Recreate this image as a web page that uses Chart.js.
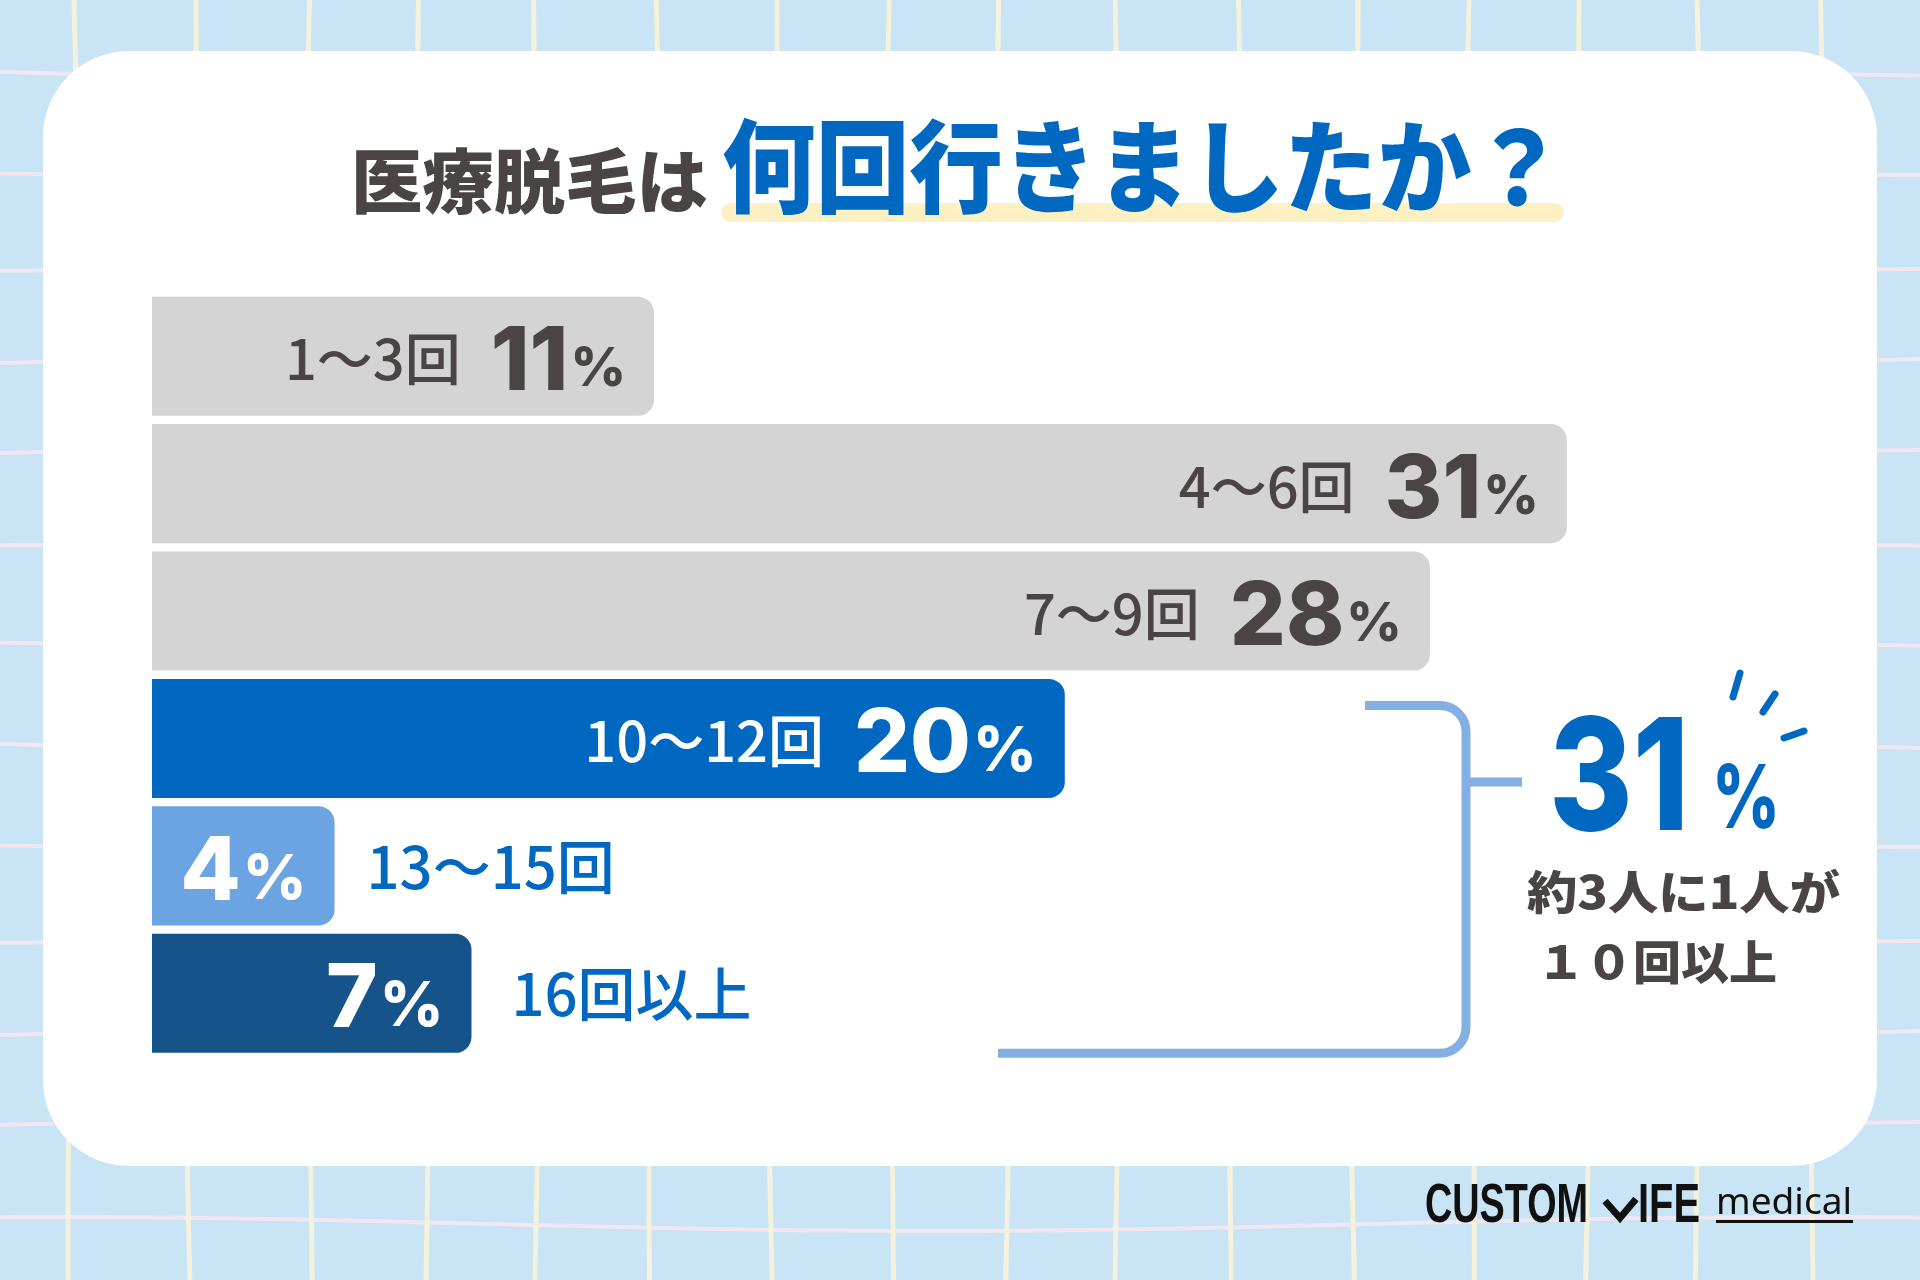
<!DOCTYPE html>
<html><head><meta charset="utf-8">
<script src="https://cdn.jsdelivr.net/npm/chart.js@4"></script>
<style>html,body{margin:0;padding:0;background:#c9e4f4;overflow:hidden}#wrap{width:1920px;height:1280px}</style>
</head><body><div id="wrap"><canvas id="c" width="1920" height="1280"></canvas></div>
<script>
// ---- data ----
const categories = ['1〜3回', '4〜6回', '7〜9回', '10〜12回', '13〜15回', '16回以上'];
const percentages = [11, 31, 28, 20, 4, 7];
const titleDark = '医療脱毛は';
const titleBlue = '何回行きましたか？';
const calloutLine1 = '約3人に1人が';
const calloutLine2 = '１０回以上';
const logoWords = ['CUSTOM', 'IFE', 'medical'];

// ---- styles ----
const DARK = '#4a4444';
const BLUE = '#0068c0';
const barColors = ['#d4d4d4', '#d4d4d4', '#d4d4d4', '#0068c0', '#6ca4e2', '#15538a'];
const JP = "'Noto Sans CJK JP', 'Noto Sans', sans-serif";
const NUM = "Inter, 'Noto Sans', sans-serif";

function rr(ctx, x, y, w, h, r) {
  ctx.beginPath();
  ctx.moveTo(x + r, y);
  ctx.arcTo(x + w, y, x + w, y + h, r);
  ctx.arcTo(x + w, y + h, x, y + h, r);
  ctx.arcTo(x, y + h, x, y, r);
  ctx.arcTo(x, y, x + w, y, r);
  ctx.closePath();
}
function fitText(ctx, text, x, y, w) {
  const m = ctx.measureText(text).width;
  ctx.save(); ctx.translate(x, y); ctx.scale(w / m, 1); ctx.fillText(text, 0, 0); ctx.restore();
}

const bgPlugin = {
  id: 'bg',
  beforeDraw(chart) {
    const ctx = chart.ctx;
    ctx.save();
    ctx.fillStyle = '#c9e4f4';
    ctx.fillRect(0, 0, 1920, 1280);
    ctx.strokeStyle = '#f2e6f3'; ctx.lineWidth = 4;
    for (let k = 0; k < 14; k++) {
      const y0 = 72 + 96 * k;
      ctx.beginPath();
      for (let x = 0; x <= 1920; x += 20) {
        const y = y0 + 7 * Math.sin(x / 280 + k * 0.9);
        if (x === 0) ctx.moveTo(x, y); else ctx.lineTo(x, y);
      }
      ctx.stroke();
    }
    ctx.strokeStyle = '#f4f2dc'; ctx.lineWidth = 5;
    for (let k = 0; k < 17; k++) {
      const x0 = 74 + 116.2 * k;
      ctx.beginPath();
      for (let y = 0; y <= 1280; y += 20) {
        const x = x0 + 6 * Math.sin(y / 260 + k * 1.3);
        if (y === 0) ctx.moveTo(x, y); else ctx.lineTo(x, y);
      }
      ctx.stroke();
    }
    ctx.fillStyle = '#ffffff';
    rr(ctx, 43, 51, 1834, 1115, 86);
    ctx.fill();
    ctx.fillStyle = '#fdf1c4';
    rr(ctx, 721, 203, 843, 19, 9.5);
    ctx.fill();
    ctx.textBaseline = 'middle';
    ctx.textAlign = 'left';
    ctx.fillStyle = DARK;
    ctx.font = `900 70px ${JP}`;
    fitText(ctx, titleDark, 351, 181, 357);
    ctx.fillStyle = BLUE;
    ctx.font = `900 92px ${JP}`;
    ctx.save();
    ctx.translate(722, 167); ctx.scale(1, 1.1);
    const m = ctx.measureText(titleBlue).width;
    ctx.scale(843 / m, 1);
    ctx.fillText(titleBlue, 0, 0);
    ctx.restore();
    ctx.restore();
  }
};

const labelPlugin = {
  id: 'labels',
  afterDatasetsDraw(chart) {
    const ctx = chart.ctx;
    const meta = chart.getDatasetMeta(0);
    ctx.save();
    ctx.textBaseline = 'alphabetic';
    meta.data.forEach((bar, i) => {
      const end = bar.x, start = bar.base, y = bar.y;
      const val = String(percentages[i]);
      const cat = categories[i];
      const gray = i < 3;
      const ink = gray ? DARK : '#ffffff';
      const pctSize = gray ? 54 : 62;
      ctx.font = `800 ${pctSize}px ${NUM}`;
      const pctW = ctx.measureText('%').width;
      ctx.font = `800 88px ${NUM}`;
      const numW = ctx.measureText(val).width;
      ctx.font = `500 56px ${JP}`;
      const catW = ctx.measureText(cat).width;
      const pctRight = end - 28;
      const numRight = pctRight - pctW - 2;
      const catRight = numRight - numW - 30;
      const inside = catRight - catW > start + 20;
      ctx.textAlign = 'right';
      ctx.fillStyle = ink;
      ctx.font = `800 ${pctSize}px ${NUM}`;
      ctx.fillText('%', pctRight, y + (gray ? 30 : 33));
      ctx.font = `800 88px ${NUM}`;
      ctx.fillText(val, numRight, y + 34);
      ctx.font = `500 56px ${JP}`;
      if (inside) {
        ctx.fillText(cat, catRight, y + 24);
      } else {
        ctx.textAlign = 'left';
        ctx.fillStyle = BLUE;
        ctx.font = `500 58px ${JP}`;
        ctx.fillText(cat, end + 32 + (i === 5 ? 8 : 0), y + 23);
      }
    });
    ctx.restore();
  },
  afterDraw(chart) {
    const ctx = chart.ctx;
    const meta = chart.getDatasetMeta(0);
    const topY = meta.data[3].y - 33;
    const botY = meta.data[5].y + 60;
    ctx.save();
    ctx.strokeStyle = '#84afe2'; ctx.lineWidth = 9; ctx.lineJoin = 'round';
    ctx.beginPath();
    ctx.moveTo(1365, topY);
    ctx.arcTo(1466, topY, 1466, botY, 26);
    ctx.arcTo(1466, botY, 998, botY, 26);
    ctx.lineTo(998, botY);
    ctx.stroke();
    ctx.beginPath(); ctx.moveTo(1466, 782); ctx.lineTo(1522, 782); ctx.stroke();
    const total = percentages.slice(3).reduce((a, b) => a + b, 0);
    ctx.fillStyle = BLUE; ctx.textAlign = 'left'; ctx.textBaseline = 'alphabetic';
    ctx.font = `800 156px ${NUM}`;
    fitText(ctx, String(total), 1549, 830, 140);
    ctx.font = `800 88px ${NUM}`;
    fitText(ctx, '%', 1712, 828, 68);
    ctx.strokeStyle = BLUE; ctx.lineWidth = 7; ctx.lineCap = 'round';
    [[1740, 673, 1733, 697], [1775, 694, 1763, 712], [1804, 731, 1784, 738]].forEach(s => {
      ctx.beginPath(); ctx.moveTo(s[0], s[1]); ctx.lineTo(s[2], s[3]); ctx.stroke();
    });
    ctx.fillStyle = DARK; ctx.textBaseline = 'middle';
    ctx.font = `900 46px ${JP}`;
    fitText(ctx, calloutLine1, 1527, 892, 313);
    fitText(ctx, calloutLine2, 1537, 962, 240);
    ctx.fillStyle = '#111111'; ctx.textBaseline = 'alphabetic';
    ctx.font = "bold 56px 'Liberation Sans Narrow', 'Liberation Sans', sans-serif";
    fitText(ctx, logoWords[0], 1425, 1222, 163);
    fitText(ctx, logoWords[1], 1638, 1222, 62);
    ctx.strokeStyle = '#111111'; ctx.lineWidth = 7; ctx.lineCap = 'butt'; ctx.lineJoin = 'miter';
    ctx.beginPath(); ctx.moveTo(1605, 1201); ctx.lineTo(1620, 1218); ctx.lineTo(1636, 1199); ctx.stroke();
    ctx.font = "36px 'Noto Sans', 'DejaVu Sans', sans-serif";
    fitText(ctx, logoWords[2], 1716, 1214, 136);
    ctx.fillRect(1716, 1220, 137, 3);
    ctx.restore();
  }
};

new Chart(document.getElementById('c'), {
  type: 'bar',
  data: {
    labels: categories,
    datasets: [{
      data: percentages,
      backgroundColor: barColors,
      borderRadius: 16,
      borderSkipped: 'start',
      barPercentage: 0.935,
      categoryPercentage: 1
    }]
  },
  options: {
    indexAxis: 'y',
    responsive: false,
    maintainAspectRatio: false,
    animation: false,
    layout: { padding: { left: 152, right: 170.6, top: 292.5, bottom: 223 } },
    scales: {
      x: { display: false, min: 0, max: 35 },
      y: { display: false }
    },
    plugins: { legend: { display: false }, tooltip: { enabled: false } }
  },
  plugins: [bgPlugin, labelPlugin]
});
</script></body></html>
